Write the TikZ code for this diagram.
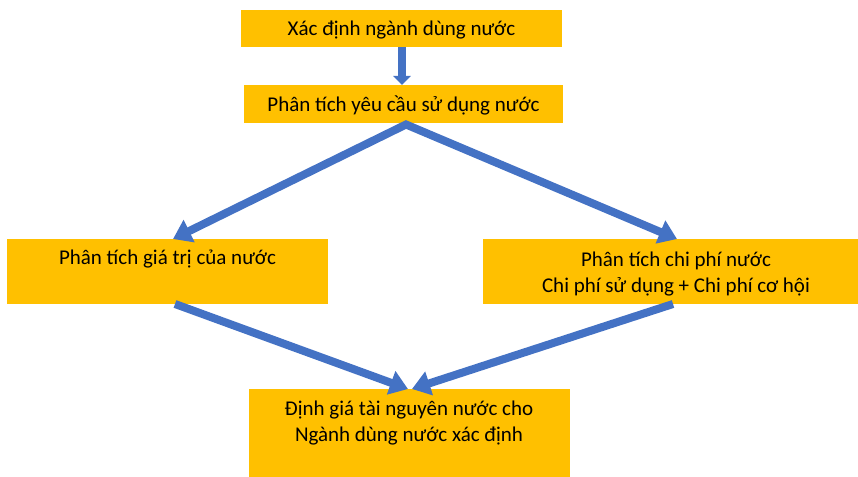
\documentclass[tikz,border=0pt]{standalone}
\usepackage{fontspec}
\setmainfont{Carlito}
\usetikzlibrary{arrows.meta,calc}
\definecolor{boxyellow}{HTML}{FFC000}
\definecolor{arrowblue}{HTML}{4472C4}
\begin{document}
\begin{tikzpicture}[x=1bp,y=-1bp,
  box/.style={fill=boxyellow, draw=none, inner sep=0pt, outer sep=0pt, anchor=north west},
  lbl/.style={font=\fontsize{21bp}{26bp}\selectfont, align=center, inner sep=0pt, text=black},
  flow/.style={draw=arrowblue, line width=8bp, line join=miter, -{Triangle[width=24bp,length=18bp]}},
  flowboth/.style={draw=arrowblue, line width=8bp, line join=miter, {Triangle[width=24bp,length=18bp]}-{Triangle[width=24bp,length=18bp]}},
  flowsmall/.style={draw=arrowblue, line width=8.5bp, -{Triangle[width=17bp,length=9bp]}},
]
\useasboundingbox (0,0) rectangle (858,477);
% boxes
\node[box, minimum width=321bp, minimum height=37bp] (b1) at (241,10) {};
\node[box, minimum width=319bp, minimum height=38bp] (b2) at (244,85) {};
\node[box, minimum width=321bp, minimum height=65bp] (b3) at (7,239) {};
\node[box, minimum width=375bp, minimum height=65bp] (b4) at (483,239) {};
\node[box, minimum width=321bp, minimum height=88bp] (b5) at (249,389) {};
% texts
\node[lbl, anchor=base] (t1) at (401.5,36) {Xác định ngành dùng nước};
\node[lbl, anchor=base] (t2) at (403.5,112) {Phân tích yêu cầu sử dụng nước};
\node[lbl, anchor=base] (t3) at (167.5,265) {Phân tích giá trị của nước};
\node[lbl] (t4) at (676,274) {Phân tích chi phí nước\\Chi phí sử dụng + Chi phí cơ hội};
\node[lbl] (t5) at (409,423) {Định giá tài nguyên nước cho\\Ngành dùng nước xác định};
% connectors
\coordinate (apex) at (406,124.5);
\draw[flowsmall] ([xshift=0.5bp]b1.south) -- ([xshift=0.5bp]b1.south |- b2.north);
\draw[flowboth] ([xshift=5.5bp]b3.north) -- (apex) -- ([xshift=6.5bp]b4.north);
\draw[flow] ([xshift=7.5bp]b3.south) -- ([xshift=-1.5bp]b5.north);
\draw[flow] ([xshift=2.5bp]b4.south) -- ([xshift=2.5bp]b5.north);
\end{tikzpicture}
\end{document}
